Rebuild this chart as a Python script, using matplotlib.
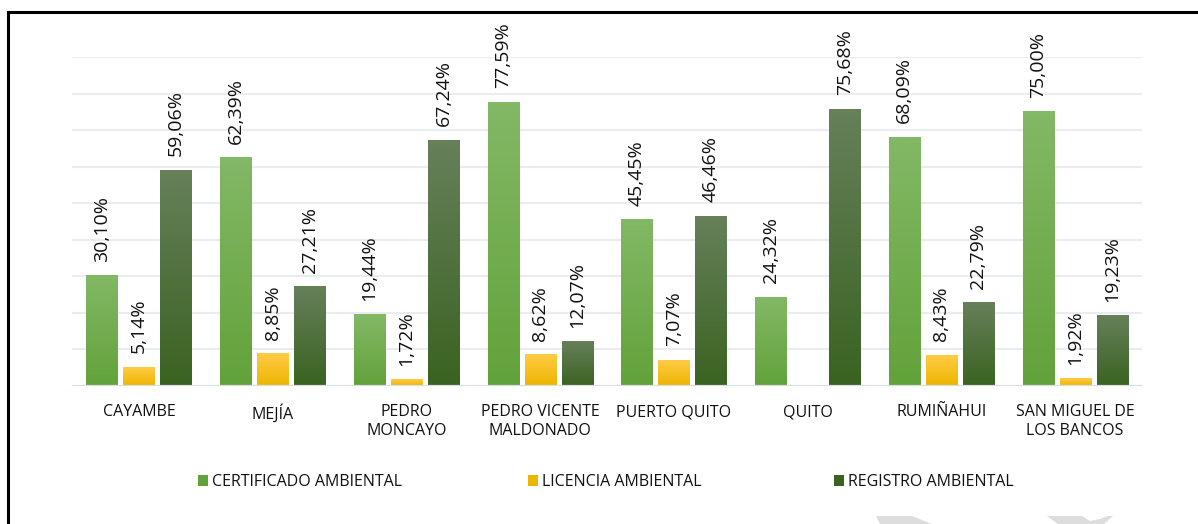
import matplotlib
matplotlib.use("Agg")
import matplotlib.pyplot as plt
import numpy as np
from matplotlib.colors import LinearSegmentedColormap
from matplotlib.patches import Rectangle, Polygon

plt.rcParams["font.family"] = ["Open Sans", "DejaVu Sans"]

cantones = ["CAYAMBE", "MEJÍA", "PEDRO\nMONCAYO", "PEDRO VICENTE\nMALDONADO",
            "PUERTO QUITO", "QUITO", "RUMIÑAHUI", "SAN MIGUEL DE\nLOS BANCOS"]
certificado = [30.10, 62.39, 19.44, 77.59, 45.45, 24.32, 68.09, 75.00]
licencia = [5.14, 8.85, 1.72, 8.62, 7.07, None, 8.43, 1.92]
registro = [59.06, 27.21, 67.24, 12.07, 46.46, 75.68, 22.79, 19.23]

series = [
    ("CERTIFICADO AMBIENTAL", certificado, ("#83B866", "#62A23A")),
    ("LICENCIA AMBIENTAL", licencia, ("#FFCB45", "#EDB500")),
    ("REGISTRO AMBIENTAL", registro, ("#66805A", "#3A6321")),
]

W, H = 1198, 524
fig = plt.figure(figsize=(W / 100, H / 100), dpi=100)
ax = fig.add_axes([72 / W, 1 - 386 / H, (1142 - 72) / W, (386 - 57) / H])

x = np.arange(len(cantones))
bar_w = 0.232
step = 0.277

for k, (name, vals, (top, bot)) in enumerate(series):
    cmap = LinearSegmentedColormap.from_list(name, [bot, top])
    grad = np.linspace(0, 1, 64).reshape(-1, 1)
    for xi, v in zip(x, vals):
        if v is None:
            continue
        cx = xi + (k - 1) * step
        ax.imshow(grad, cmap=cmap, origin="lower", aspect="auto",
                  extent=(cx - bar_w / 2, cx + bar_w / 2, 0, v), zorder=3)
        ax.annotate(f"{v:.2f}%".replace(".", ","), (cx, v), xytext=(0, 10),
                    textcoords="offset points", rotation=90, ha="center",
                    va="bottom", fontsize=14, color="#111111")

ax.set_xlim(-0.5, len(cantones) - 0.5)
ax.set_ylim(0, 90)
for gy in range(10, 100, 10):
    ax.axhline(gy, color="#E9EDF2", lw=1.6, zorder=1)
ax.axhline(0, color="#D9DEE4", lw=1.6, zorder=4)

ax.set_xticks(x)
ax.set_xticklabels(cantones, fontsize=11.5, color="#111111", linespacing=1.25, va="top")
ax.tick_params(axis="x", length=0, pad=13)
ax.set_yticks([])
for s in ax.spines.values():
    s.set_visible(False)

# legend entries placed like the original
leg_x = [190, 520, 826]
for (name, vals, (top, bot)), lx in zip(series, leg_x):
    h = Rectangle((0, 0), 1, 1, facecolor=bot, edgecolor="none")
    fig.legend(handles=[h], labels=[name], loc="center left",
               bbox_to_anchor=(lx / W, 1 - 482 / H), frameon=False,
               fontsize=11.5, handlelength=0.65, handleheight=0.65,
               handletextpad=0.25, borderpad=0, labelcolor="#111111")

# page frame (left and top edges)
fig.add_artist(plt.Line2D([8 / W, 8 / W], [0, 1 - 12 / H], color="black", lw=2.2,
                          transform=fig.transFigure))
fig.add_artist(plt.Line2D([8 / W, 1], [1 - 12 / H, 1 - 12 / H], color="black", lw=2.2,
                          transform=fig.transFigure))

# faint watermark fragments at the bottom edge
for pts in ([(876, 516), (912, 516), (932, 524), (880, 524)],
            [(1047, 516), (1082, 516), (1090, 521), (1100, 519), (1108, 516),
             (1113, 516), (1104, 524), (1058, 524)]):
    fig.add_artist(Polygon([(px / W, 1 - py / H) for px, py in pts], closed=True,
                           facecolor="#DDDDDD", edgecolor="none",
                           transform=fig.transFigure))

fig.savefig("out.png", dpi=100)
